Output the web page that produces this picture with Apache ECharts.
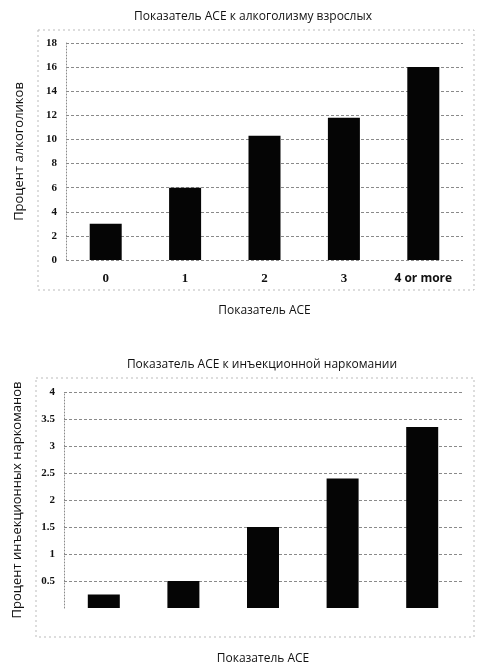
<!DOCTYPE html>
<html>
<head>
<meta charset="utf-8">
<script src="https://cdn.jsdelivr.net/npm/echarts@6/dist/echarts.min.js"></script>
<style>
  html, body { margin: 0; padding: 0; background: #fff; }
  #main { width: 482px; height: 672px; }
</style>
</head>
<body>
<div id="main"></div>
<script>
// ACE score categories
const categories = ['0', '1', '2', '3', '4 or more'];
// % of adult alcoholics by ACE score
const alcoholism = [3, 6, 10.3, 11.8, 16];
// % of injection drug users by ACE score
const injection = [0.25, 0.5, 1.5, 2.4, 3.35];

let chartDom = document.getElementById('main');
let myChart = echarts.init(chartDom);

const sans = '"Open Sans", "Noto Sans", sans-serif';
const serif = '"Liberation Serif", "DejaVu Serif", serif';
const gridLine = { color: '#8a8a8a', type: [3, 2], width: 1 };

let option = {
  animation: false,
  backgroundColor: '#fff',
  title: [
    {
      text: 'Показатель ACE к алкоголизму взрослых',
      left: 248, top: 6, textAlign: 'center',
      textStyle: { fontFamily: sans, fontSize: 12, fontWeight: 'normal', color: '#111' }
    },
    {
      text: 'Показатель ACE к инъекционной наркомании',
      left: 257, top: 354, textAlign: 'center',
      textStyle: { fontFamily: sans, fontSize: 12, fontWeight: 'normal', color: '#111' }
    }
  ],
  graphic: [
    {
      type: 'rect', silent: true,
      shape: { x: 38, y: 30, width: 436, height: 260 },
      style: { fill: 'none', stroke: '#bbb', lineWidth: 1, lineDash: [2, 3] }
    },
    {
      type: 'rect', silent: true,
      shape: { x: 36, y: 378, width: 438, height: 259 },
      style: { fill: 'none', stroke: '#bbb', lineWidth: 1, lineDash: [2, 3] }
    }
  ],
  grid: [
    { left: 66, right: 19, top: 43, bottom: 412 },
    { left: 64, right: 20, top: 392, bottom: 64 }
  ],
  xAxis: [
    {
      type: 'category',
      gridIndex: 0,
      data: categories,
      axisLine: { show: false },
      axisTick: { show: false },
      axisLabel: {
        interval: 0,
        margin: 11,
        formatter: function (v) { return v.length > 1 ? '{s|' + v + '}' : '{n|' + v + '}'; },
        rich: {
          n: { fontFamily: serif, fontSize: 13, fontWeight: 'bold', color: '#111', height: 16 },
          s: { fontFamily: sans, fontSize: 12, fontWeight: 'bold', color: '#111', height: 16 }
        }
      },
      name: 'Показатель ACE',
      nameLocation: 'middle',
      nameGap: 45,
      nameTextStyle: { fontFamily: sans, fontSize: 12, color: '#111' }
    },
    {
      type: 'category',
      gridIndex: 1,
      data: categories,
      axisLine: { show: false },
      axisTick: { show: false },
      axisLabel: { show: false },
      name: 'Показатель ACE',
      nameLocation: 'middle',
      nameGap: 45,
      nameTextStyle: { fontFamily: sans, fontSize: 12, color: '#111' }
    }
  ],
  yAxis: [
    {
      type: 'value',
      gridIndex: 0,
      min: 0, max: 18, interval: 2,
      axisLine: { show: true, lineStyle: { color: '#8a8a8a', type: [1, 2] } },
      axisTick: { show: false },
      axisLabel: { margin: 9, fontFamily: serif, fontSize: 11, fontWeight: 'bold', color: '#111' },
      splitLine: { show: true, lineStyle: gridLine },
      name: 'Процент алкоголиков',
      nameLocation: 'middle',
      nameGap: 40,
      nameTextStyle: { fontFamily: sans, fontSize: 13, color: '#111' }
    },
    {
      type: 'value',
      gridIndex: 1,
      min: 0, max: 4, interval: 0.5,
      axisLine: { show: true, lineStyle: { color: '#8a8a8a', type: [1, 2] } },
      axisTick: { show: false },
      axisLabel: {
        margin: 9, fontFamily: serif, fontSize: 11, fontWeight: 'bold', color: '#111',
        formatter: function (v) { return v === 0 ? '' : String(v); }
      },
      splitLine: {
        show: true,
        lineStyle: {
          color: ['rgba(0,0,0,0)', '#8a8a8a', '#8a8a8a', '#8a8a8a', '#8a8a8a', '#8a8a8a', '#8a8a8a', '#8a8a8a', '#8a8a8a'],
          type: [3, 2], width: 1
        }
      },
      name: 'Процент инъекционных наркоманов',
      nameLocation: 'middle',
      nameGap: 40,
      nameTextStyle: { fontFamily: sans, fontSize: 13, color: '#111' }
    }
  ],
  series: [
    {
      type: 'bar',
      xAxisIndex: 0, yAxisIndex: 0,
      data: alcoholism,
      barWidth: 32,
      itemStyle: { color: '#050505' }
    },
    {
      type: 'bar',
      xAxisIndex: 1, yAxisIndex: 1,
      data: injection,
      barWidth: 32,
      itemStyle: { color: '#050505' }
    }
  ]
};

myChart.setOption(option);
</script>
</body>
</html>
